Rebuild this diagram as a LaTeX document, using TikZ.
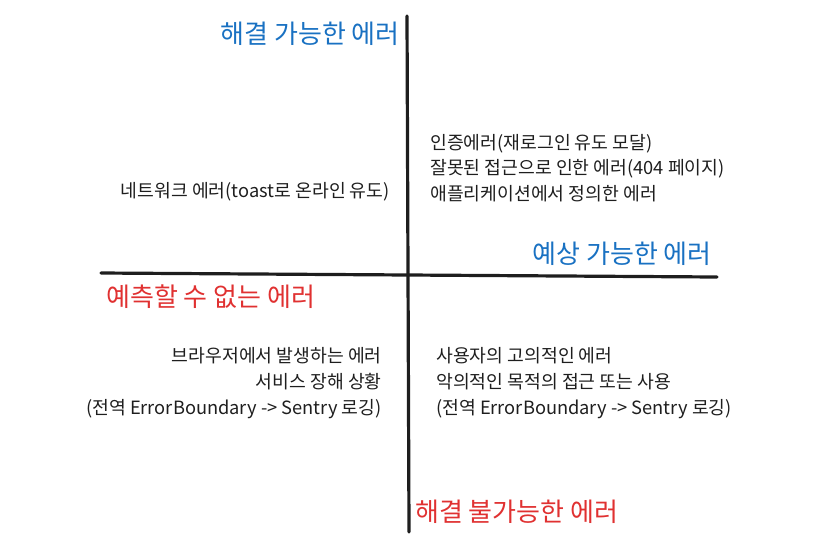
\documentclass[tikz,border=0pt]{standalone}
\usepackage{fontspec}
\setmainfont{Noto Sans CJK KR}
\definecolor{exblue}{HTML}{1971C2}
\definecolor{exred}{HTML}{E03131}
\definecolor{exink}{HTML}{1E1E1E}
\tikzset{
  axis/.style={draw=exink, line width=2.4pt, line cap=round},
  title/.style={font=\fontsize{19.5pt}{23pt}\selectfont, inner sep=0pt},
  bluetitle/.style={title, text=exblue},
  redtitle/.style={title, text=exred},
  body/.style={font=\fontsize{13.7pt}{19.3pt}\selectfont, inner sep=0pt, text=exink},
}
\begin{document}
\begin{tikzpicture}[x=0.75pt, y=-0.75pt]
\path[use as bounding box] (0,0) rectangle (837,551);
\coordinate (vtop) at (407,16);
\coordinate (vbot) at (409,532);
\coordinate (hleft) at (101,273);
\coordinate (hright) at (717,277);
\draw[axis] (vtop) -- (vbot);
\draw[axis] (hleft) -- (hright);

\node[bluetitle, anchor=east] (t1) at (400,34) {해결 가능한 에러};
\node[bluetitle, anchor=east] (t2) at (712,254) {예상 가능한 에러};
\node[redtitle, anchor=west] (t3) at (106,297) {예측할 수 없는 에러};
\node[redtitle, anchor=west] (t4) at (415,512) {해결 불가능한 에러};

\node[body, anchor=east] (q2) at (390,192) {네트워크 에러(toast로 온라인 유도)};
\node[body, anchor=west, align=left] (q1) at (430,168) {인증에러(재로그인 유도 모달)\\잘못된 접근으로 인한 에러(404 페이지)\\애플리케이션에서 정의한 에러};
\node[body, anchor=east, align=right] (q3) at (382,383) {브라우저에서 발생하는 에러\\서비스 장해 상황\\(전역 ErrorBoundary -> Sentry 로깅)};
\node[body, anchor=west, align=left] (q4) at (436,383) {사용자의 고의적인 에러\\악의적인 목적의 접근 또는 사용\\(전역 ErrorBoundary -> Sentry 로깅)};
\end{tikzpicture}
\end{document}
